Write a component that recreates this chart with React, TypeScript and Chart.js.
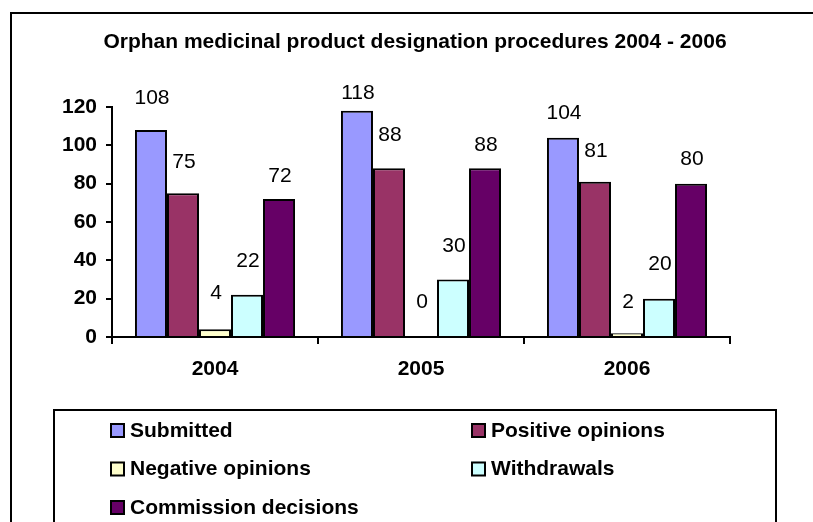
import React, { useEffect, useRef } from 'react';
import { Chart, registerables } from 'chart.js';

Chart.register(...registerables);

// ---- data ----
const categories = ['2004', '2005', '2006'];
const submitted = [108, 118, 104];
const positiveOpinions = [75, 88, 81];
const negativeOpinions = [4, 0, 2];
const withdrawals = [22, 30, 20];
const commissionDecisions = [72, 88, 80];
const yMin = 0;
const yMax = 120;
const yStep = 20;
const chartTitle = 'Orphan medicinal product designation procedures 2004 - 2006';
const seriesNames = ['Submitted', 'Positive opinions', 'Negative opinions', 'Withdrawals', 'Commission decisions'];

// ---- styles ----
const seriesColors = ['#9999FF', '#993366', '#FFFFCC', '#CCFFFF', '#660066'];
// distance (px) from each bar's top to the centre of its value label
const labelGaps = [
  [32, 18, 24],
  [31, 33, 31],
  [36, 35, 31],
  [34, 33, 34],
  [23, 23, 24],
];
const FONT = '"Liberation Sans", Arial, Helvetica, sans-serif';

const decorPlugin = {
  id: 'decor',
  beforeDatasetsDraw(chart: any) {
    const ctx = chart.ctx;
    ctx.save();
    ctx.font = `21px ${FONT}`;
    ctx.fillStyle = '#000';
    ctx.textAlign = 'center';
    ctx.textBaseline = 'middle';
    chart.data.datasets.forEach((ds: any, i: number) => {
      const meta = chart.getDatasetMeta(i);
      meta.data.forEach((bar: any, j: number) => {
        ctx.fillText(String(ds.data[j]), bar.x + 1, bar.y - labelGaps[i][j]);
      });
    });
    ctx.restore();
  },
  afterDraw(chart: any) {
    const ctx = chart.ctx;
    ctx.save();
    // outer frame
    ctx.strokeStyle = '#000';
    ctx.lineWidth = 2;
    ctx.strokeRect(11, 13, 900, 600);
    // title
    ctx.fillStyle = '#000';
    ctx.font = `bold 21px ${FONT}`;
    ctx.textAlign = 'center';
    ctx.textBaseline = 'middle';
    ctx.fillText(chartTitle, 415, 42);
    // legend box
    ctx.strokeRect(54, 410, 722, 200);
    const colX = [110, 471];
    ctx.textAlign = 'left';
    chart.data.datasets.forEach((ds: any, i: number) => {
      const col = i % 2;
      const row = Math.floor(i / 2);
      const x = colX[col];
      const y = 423 + row * 38.5;
      ctx.fillStyle = ds.backgroundColor;
      ctx.fillRect(x, y, 14, 14);
      ctx.lineWidth = 2;
      ctx.strokeStyle = '#000';
      ctx.strokeRect(x + 1, y + 1, 13, 13);
      ctx.fillStyle = '#000';
      ctx.fillText(ds.label, x + 20, y + 8);
    });
    ctx.restore();
  },
};

export default function App() {
  const canvasRef = useRef<HTMLCanvasElement | null>(null);

  useEffect(() => {
    if (!canvasRef.current) return;
    const seriesValues = [submitted, positiveOpinions, negativeOpinions, withdrawals, commissionDecisions];
    const chart = new Chart(canvasRef.current, {
      type: 'bar',
      data: {
        labels: categories,
        datasets: seriesValues.map((vals, i) => ({
          label: seriesNames[i],
          data: vals,
          backgroundColor: seriesColors[i],
          borderColor: '#000',
          borderWidth: 2,
          categoryPercentage: 0.777,
          barPercentage: 1,
        })),
      },
      options: {
        animation: false,
        responsive: false,
        devicePixelRatio: 1,
        layout: { padding: { top: 107, left: 0, right: 83, bottom: 125 } },
        plugins: {
          legend: { display: false },
          title: { display: false },
          tooltip: { enabled: false },
        },
        scales: {
          x: {
            grid: {
              display: true,
              drawOnChartArea: false,
              drawTicks: true,
              tickLength: 7,
              color: '#000',
              lineWidth: 2,
              offset: true,
            },
            border: { display: true, color: '#000', width: 2 },
            ticks: {
              color: '#000',
              font: { family: FONT, size: 21, weight: 'bold' },
              padding: 13,
              maxRotation: 0,
            },
            afterFit: (s: any) => {
              s.height = 60;
            },
          },
          y: {
            min: yMin,
            max: yMax,
            ticks: {
              stepSize: yStep,
              color: '#000',
              font: { family: FONT, size: 21, weight: 'bold' },
              padding: 9,
            },
            grid: {
              drawOnChartArea: false,
              drawTicks: true,
              tickLength: 6,
              color: '#000',
              lineWidth: 2,
            },
            border: { display: true, color: '#000', width: 2 },
            afterFit: (s: any) => {
              s.width = 112;
            },
          },
        },
      } as any,
      plugins: [decorPlugin],
    });
    return () => chart.destroy();
  }, []);

  return (
    <div style={{ position: 'fixed', left: 0, top: 0, width: 813, height: 522, background: '#fff' }}>
      <canvas ref={canvasRef} width={813} height={522} style={{ display: 'block' }} />
    </div>
  );
}
